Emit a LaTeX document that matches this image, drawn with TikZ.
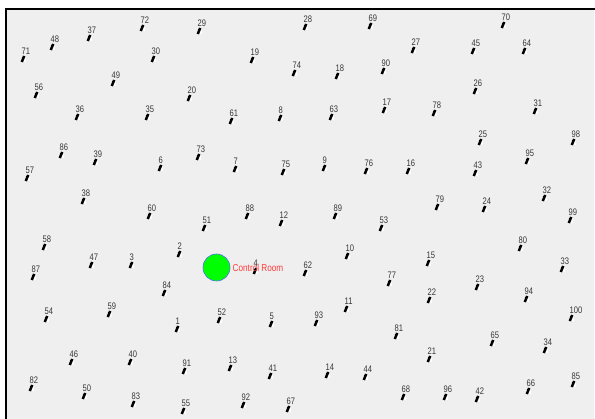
\documentclass[tikz,border=0pt]{standalone}
\usepackage{fontspec}
\usetikzlibrary{calc}
\newfontfamily\lblfont[FakeStretch=0.8]{Liberation Sans}
\newfontfamily\crfont[FakeStretch=0.82]{Liberation Sans}
\definecolor{bggray}{HTML}{EFEFEF}
\definecolor{lblgray}{HTML}{383838}
\definecolor{crred}{HTML}{FF3B3B}
\definecolor{crgreen}{HTML}{00FF00}
\definecolor{crblue}{HTML}{5070F0}
\tikzset{
  sensor/.style={rectangle, fill=black, inner sep=0pt, minimum width=2.5pt, minimum height=6.5pt, rotate=-22},
  tick/.style={black, line width=0.6pt},
  lbl/.style={inner sep=0pt, anchor=west, text=lblgray, font=\lblfont\fontsize{9.5}{10}\selectfont},
  crlbl/.style={inner sep=0pt, anchor=west, text=crred, font=\crfont\fontsize{10}{11}\selectfont},
  room/.style={circle, fill=crgreen, draw=crblue, line width=0.6pt, minimum size=27pt, inner sep=0pt},
  frameline/.style={line width=2pt, black}
}
\begin{document}
\begin{tikzpicture}[x=1pt,y=-1pt]
\useasboundingbox (0,0) rectangle (595,419);
\fill[white] (0,0) rectangle (595,419);
\fill[bggray] (5,8) rectangle (595,419);
\draw[white, line width=0.8pt] (594.5,10) -- (594.5,419);
\draw[frameline] (5,9) -- (595,9);
\draw[frameline] (6,8) -- (6,419);
\foreach \n/\x/\y in {
71/23/59, 48/52/47, 37/89/38, 72/142/28, 29/199/31, 28/305/27, 69/370/26, 70/503/25,
30/153/59, 19/252/60, 74/294/73, 18/337/76, 90/383/71, 27/413/50, 45/473/51, 64/524/51,
49/113/83, 56/36/95, 20/189/98, 26/475/91,
36/77/117, 35/147/117, 61/231/121, 8/280/118, 63/331/117, 17/384/110, 78/434/113, 31/535/111,
25/480/142, 98/573/142,
86/61/155, 39/95/162, 6/160/168, 73/198/157, 7/235/169, 75/283/172, 9/324/168, 76/366/171, 16/408/171, 43/475/173, 95/527/161,
57/27/178, 38/83/201, 60/149/216, 88/247/216, 12/281/223, 89/335/216, 53/381/228, 79/437/207, 24/484/209, 32/544/198, 99/570/220,
51/204/228, 58/44/247, 2/179/254, 10/347/256, 15/428/263, 80/520/248, 33/562/269,
87/33/277, 47/91/265, 3/131/265, 4/255/271, 62/305/273, 77/389/283, 23/477/287,
84/164/293, 22/429/300, 94/526/299, 11/346/309, 59/109/314, 54/46/319, 52/219/320, 5/271/324, 93/316/323, 100/571/318,
1/177/329, 81/396/336, 65/492/343, 34/545/350,
46/71/362, 40/130/362, 91/184/371, 13/230/368, 41/270/376, 14/327/375, 44/365/377, 21/429/359,
82/31/388, 50/84/396, 83/133/404, 55/183/411, 92/243/405, 67/288/409, 68/403/397, 96/445/397, 42/477/399, 66/528/391, 85/573/384}{
  \fill[white] (\x+0.8,\y-0.5) rectangle (\x+3.4,\y+3.4);
  \node[sensor] (s\n) at (\x,\y) {};
  \draw[tick] ($(s\n)+(-1.5,-1.5)$) -- ($(s\n)+(2,-1.5)$);
  \node[lbl] (l\n) at ($(s\n)+(-1.5,-7.5)$) {\n};
}
\node[room] (cr) at (216.5,267.5) {};
\node[crlbl] (crl) at (232.5,268) {Control Room};
\end{tikzpicture}
\end{document}
